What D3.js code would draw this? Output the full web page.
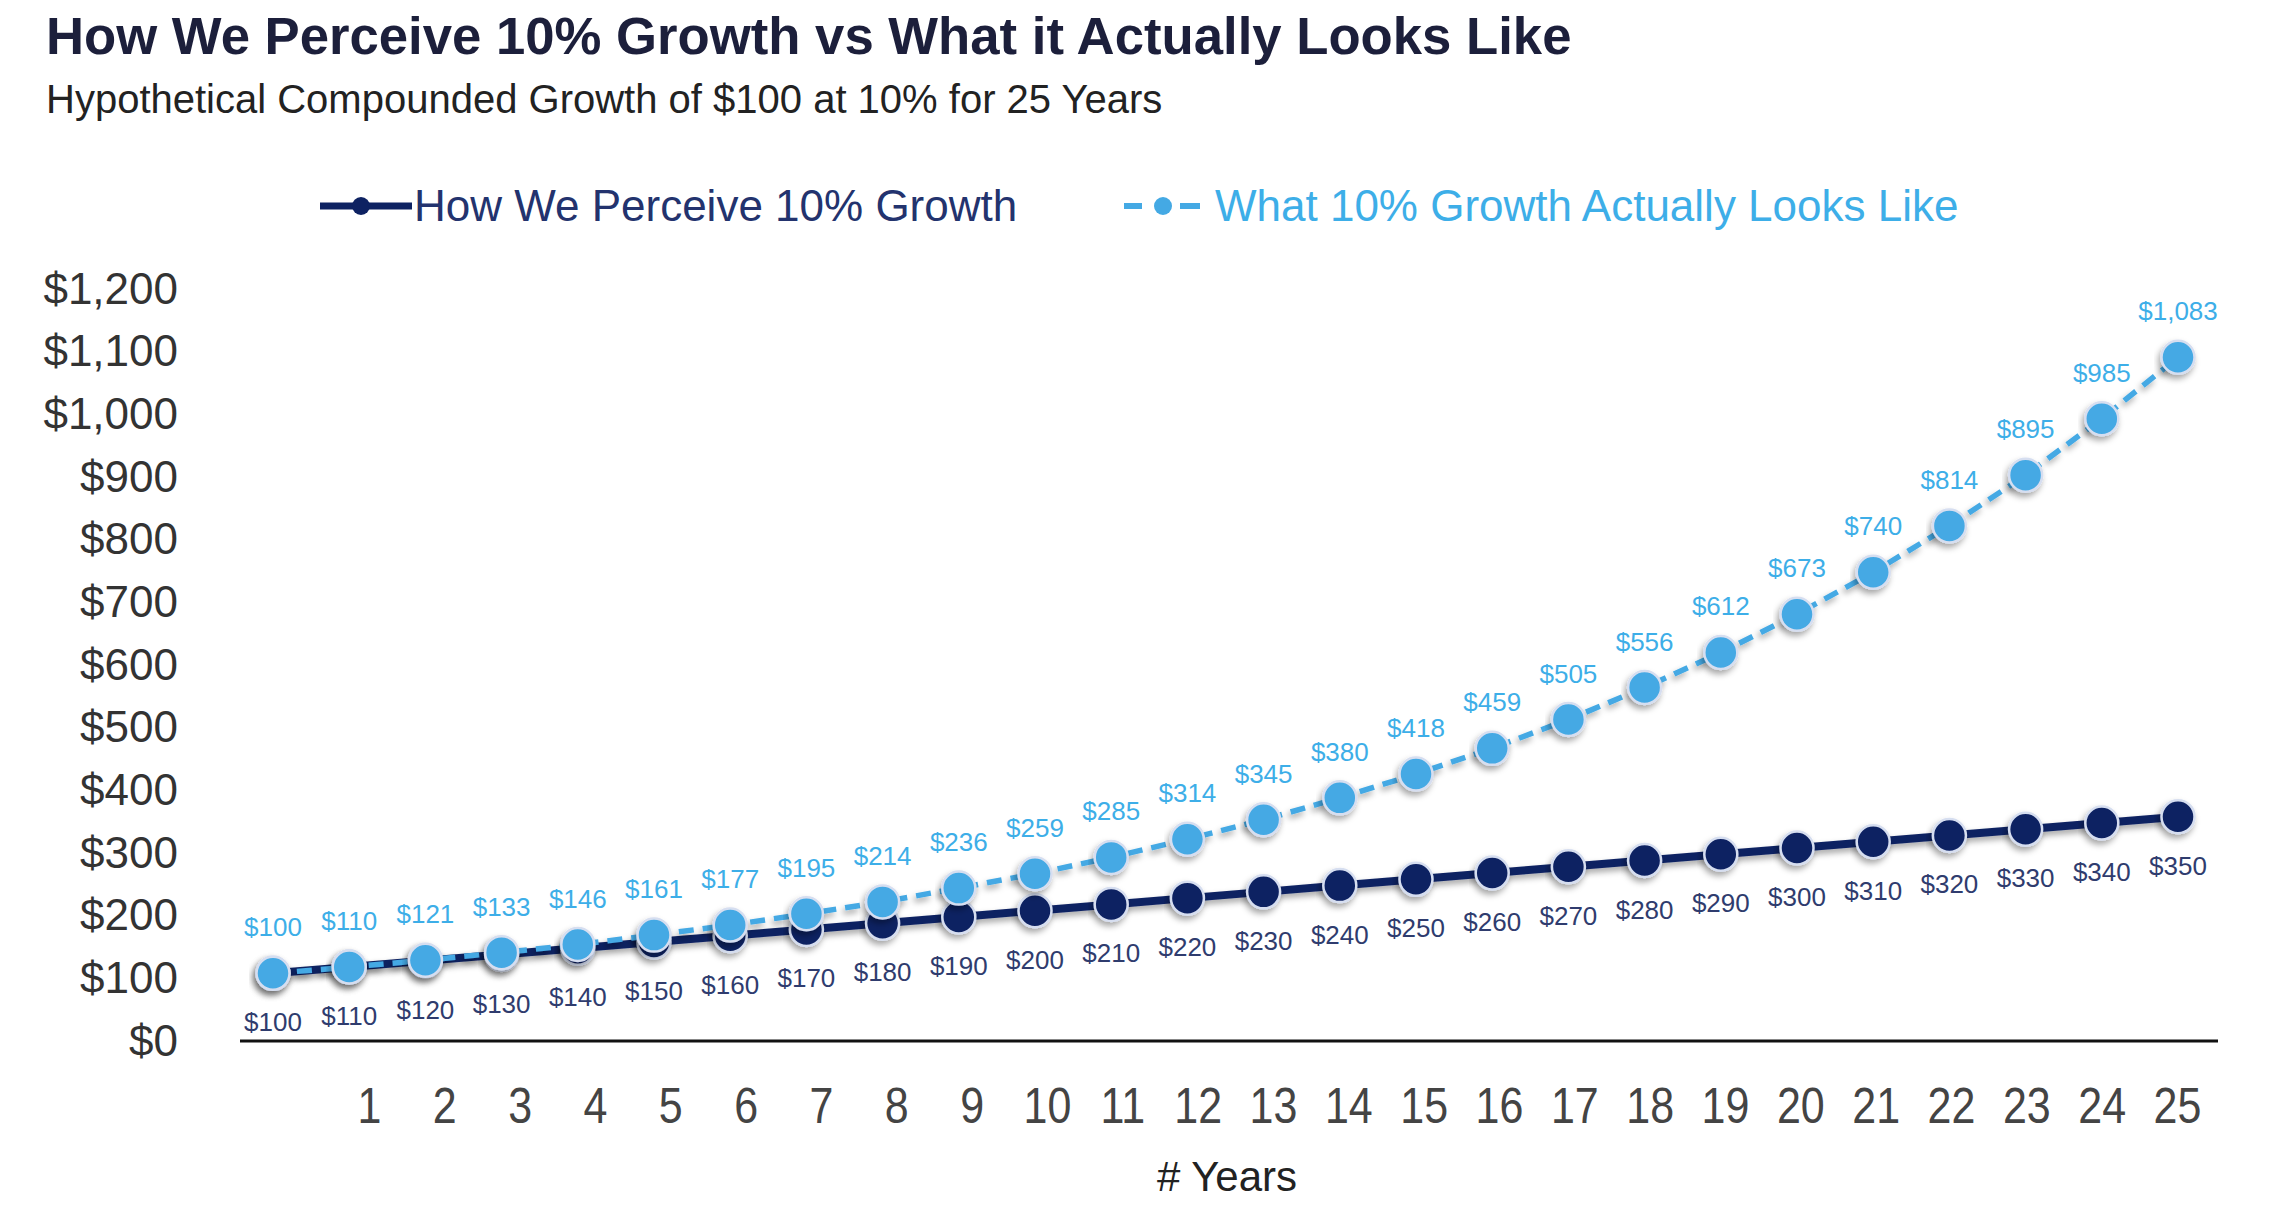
<!DOCTYPE html>
<html><head><meta charset="utf-8">
<script src="https://cdn.jsdelivr.net/npm/d3@7"></script>
<style>
body{margin:0;background:#fff}
svg{display:block;font-family:"Liberation Sans",Arial,Helvetica,sans-serif}
</style></head><body>
<script>
// ---- data ----
const years = [0,1,2,3,4,5,6,7,8,9,10,11,12,13,14,15,16,17,18,19,20,21,22,23,24,25];
const tickLabels = [1,2,3,4,5,6,7,8,9,10,11,12,13,14,15,16,17,18,19,20,21,22,23,24,25];
const perceived = [100,110,120,130,140,150,160,170,180,190,200,210,220,230,240,250,260,270,280,290,300,310,320,330,340,350];
const actual = [100,110,121,133,146,161,177,195,214,236,259,285,314,345,380,418,459,505,556,612,673,740,814,895,985,1083];
const yTicks = [0,100,200,300,400,500,600,700,800,900,1000,1100,1200];
const seriesNames = ["How We Perceive 10% Growth","What 10% Growth Actually Looks Like"];
const titleText = "How We Perceive 10% Growth vs What it Actually Looks Like";
const subtitleText = "Hypothetical Compounded Growth of $100 at 10% for 25 Years";
const xTitle = "# Years";

const W = 2283, H = 1217;
const DARK = "#0e2262", LIGHT = "#44a9e4";
const DARK_LBL = "#2f3c6e", LIGHT_LBL = "#3daee8";

const svg = d3.select("body").append("svg").attr("width", W).attr("height", H);

const defs = svg.append("defs");
const f = defs.append("filter").attr("id","sh").attr("x","-20%").attr("y","-20%").attr("width","140%").attr("height","160%");
f.append("feDropShadow").attr("dx",-2).attr("dy",4).attr("stdDeviation",3).attr("flood-color","#000").attr("flood-opacity",0.35);

// scales
const x = d3.scalePoint().domain(years).range([273, 2178]);
const xt = d3.scalePoint().domain(tickLabels).range([369, 2177]);
const y = d3.scaleLinear().domain([0, 1200]).range([1036, 284]);
const money = v => "$" + d3.format(",")(v);

// title
svg.append("text").attr("x", 46).attr("y", 54).attr("font-size", 52.7).attr("font-weight", "bold")
  .attr("fill", "#1c1f3b").text(titleText);
svg.append("text").attr("x", 46).attr("y", 113).attr("font-size", 40).attr("fill", "#222")
  .text(subtitleText);

// y axis
const yAx = svg.append("g").attr("transform", "translate(178,5)")
  .call(d3.axisLeft(y).tickValues(yTicks).tickSize(0).tickPadding(0).tickFormat(money));
yAx.select(".domain").remove();
yAx.selectAll("text").attr("font-size", 44).attr("fill", "#333").attr("font-family", "inherit");

// baseline
svg.append("line").attr("x1", 240).attr("x2", 2218).attr("y1", y(0) + 5).attr("y2", y(0) + 5)
  .attr("stroke", "#111").attr("stroke-width", 3);

// x axis tick labels
const xAx = svg.append("g").attr("transform", "translate(0," + (y(0) + 5) + ")")
  .call(d3.axisBottom(xt).tickSize(0).tickPadding(0));
xAx.select(".domain").remove();
xAx.selectAll(".tick text").attr("font-size", 50).attr("fill", "#444").attr("font-family", "inherit")
  .attr("dy", null).attr("y", 0)
  .attr("transform", "translate(0,82) scale(0.86,1)");

svg.append("text").attr("x", 1227).attr("y", 1191).attr("text-anchor", "middle")
  .attr("font-size", 42).attr("fill", "#222").text(xTitle);

// series
const line = d3.line().x((d, i) => x(years[i])).y(d => y(d));

function drawSeries(vals, color, dash, width) {
  const g = svg.append("g");
  g.append("path").datum(vals).attr("d", line).attr("fill", "none").attr("stroke", color)
    .attr("stroke-width", width).attr("stroke-dasharray", dash).attr("filter", "url(#sh)");
  g.selectAll("circle").data(vals).join("circle")
    .attr("cx", (d, i) => x(years[i])).attr("cy", d => y(d)).attr("r", 16.5)
    .attr("fill", color).attr("stroke", "#d6def0").attr("stroke-width", 2.5).attr("filter", "url(#sh)");
  return g;
}
function drawLabels(vals, lblColor, off) {
  svg.append("g").selectAll("text").data(vals).join("text")
    .attr("x", (d, i) => x(years[i])).attr("y", d => y(d) + off)
    .attr("text-anchor", "middle").attr("font-size", 26).attr("fill", lblColor)
    .text(d => money(d));
}
drawSeries(perceived, DARK, null, 8);
drawSeries(actual, LIGHT, "15 9", 5.5);
drawLabels(perceived, DARK_LBL, 58);
drawLabels(actual, LIGHT_LBL, -37);

// legend
const leg = svg.append("g");
const ly = 206;
// dark entry
leg.append("line").attr("x1", 320).attr("x2", 412).attr("y1", ly).attr("y2", ly).attr("stroke", DARK).attr("stroke-width", 7);
leg.append("circle").attr("cx", 361).attr("cy", ly).attr("r", 9).attr("fill", DARK);
leg.append("text").attr("x", 414).attr("y", ly + 15).attr("font-size", 44).attr("fill", "#23336e").text(seriesNames[0]);
// light entry
leg.append("line").attr("x1", 1124).attr("x2", 1200).attr("y1", ly).attr("y2", ly).attr("stroke", LIGHT).attr("stroke-width", 6).attr("stroke-dasharray", "18 38 20");
leg.append("circle").attr("cx", 1163).attr("cy", ly).attr("r", 9).attr("fill", LIGHT);
leg.append("text").attr("x", 1215).attr("y", ly + 15).attr("font-size", 44).attr("fill", LIGHT_LBL).text(seriesNames[1]);
</script>
</body></html>
